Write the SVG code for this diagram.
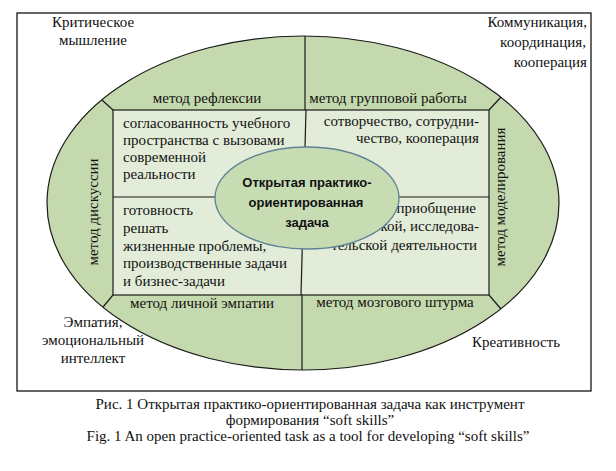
<svg xmlns="http://www.w3.org/2000/svg" width="616" height="471" viewBox="0 0 616 471">
<style>
.t{font-family:"Liberation Serif","Times New Roman",serif;font-size:15px;fill:#111}
.m{text-anchor:middle}
.e{text-anchor:end}
.b{font-family:"Liberation Sans",Arial,sans-serif;font-weight:bold;font-size:13px;fill:#111;text-anchor:middle}
.ln{stroke:#1a1a1a;stroke-width:1.2;fill:none}
</style>
<rect x="0" y="0" width="616" height="471" fill="#fff"/>
<rect id="frame" x="17" y="13" width="574" height="378" fill="#fff" stroke="#000" stroke-width="1.2"/>
<g id="outer-ring">
<ellipse cx="303" cy="203" rx="256" ry="167" fill="#c5d9ae" stroke="#1a1a1a" stroke-width="1.2"/>
</g>
<g id="inner-field">
<rect x="113" y="110" width="376" height="185" fill="#e2ecd8" stroke="#1a1a1a" stroke-width="1.2"/>
</g>
<g id="connectors">
<line class="ln" x1="305" y1="36" x2="305" y2="110"/>
<line class="ln" x1="302" y1="295" x2="302" y2="370"/>
<line class="ln" x1="113" y1="110" x2="102" y2="100"/>
<line class="ln" x1="489" y1="110" x2="501" y2="97"/>
<line class="ln" x1="489" y1="295" x2="501" y2="309"/>
<line class="ln" x1="113" y1="295" x2="103" y2="307"/>
<line class="ln" x1="306" y1="110" x2="301" y2="295"/>
<line class="ln" x1="113" y1="197" x2="489" y2="197"/>
</g>
<g id="corner-labels">
<text class="t m" x="93" y="27">Критическое</text>
<text class="t m" x="93" y="45">мышление</text>
<text class="t e" x="587" y="27">Коммуникация,</text>
<text class="t e" x="586" y="47">координация,</text>
<text class="t e" x="587" y="67">кооперация</text>
<text class="t m" x="93" y="327">Эмпатия,</text>
<text class="t m" x="93" y="345">эмоциональный</text>
<text class="t m" x="93" y="363">интеллект</text>
<text class="t m" x="516" y="347">Креативность</text>
</g>
<g id="methods">
<text class="t m" x="207" y="103">метод рефлексии</text>
<text class="t m" x="388" y="103">метод групповой работы</text>
<text class="t m" x="202" y="308">метод личной эмпатии</text>
<text class="t m" x="395" y="307">метод мозгового штурма</text>
<text class="t m" transform="translate(98,212) rotate(-90)">метод дискуссии</text>
<text class="t m" transform="translate(505,197) rotate(-90)">метод моделирования</text>
</g>
<g id="cell-top-left">
<text class="t" x="123" y="128">согласованность учебного</text>
<text class="t" x="123" y="145">пространства с вызовами</text>
<text class="t" x="123" y="162">современной</text>
<text class="t" x="123" y="179">реальности</text>
</g>
<g id="cell-top-right">
<text class="t e" x="479" y="126">сотворчество, сотрудни-</text>
<text class="t e" x="479" y="143">чество, кооперация</text>
</g>
<g id="cell-bottom-left">
<text class="t" x="123" y="215">готовность</text>
<text class="t" x="123" y="233">решать</text>
<text class="t" x="123" y="251">жизненные проблемы,</text>
<text class="t" x="123" y="268">производственные задачи</text>
<text class="t" x="123" y="286">и бизнес-задачи</text>
</g>
<g id="cell-bottom-right">
<text class="t e" x="476" y="213">приобщение</text>
<text class="t e" x="479" y="231">кой, исследова-</text>
<text class="t e" x="477" y="250">тельской деятельности</text>
</g>
<g id="center">
<ellipse cx="307" cy="198" rx="92" ry="51" fill="#c8dcb3" stroke="#5f8296" stroke-width="1.3"/>
<text class="b" x="307" y="187">Открытая практико-</text>
<text class="b" x="306" y="207">ориентированная</text>
<text class="b" x="307" y="227">задача</text>
</g>
<g id="caption">
<text class="t m" x="310" y="409">Рис. 1 Открытая практико-ориентированная задача как инструмент</text>
<text class="t m" x="310" y="425">формирования “soft skills”</text>
<text class="t m" x="308" y="441">Fig. 1 An open practice-oriented task as a tool for developing “soft skills”</text>
</g>
</svg>
